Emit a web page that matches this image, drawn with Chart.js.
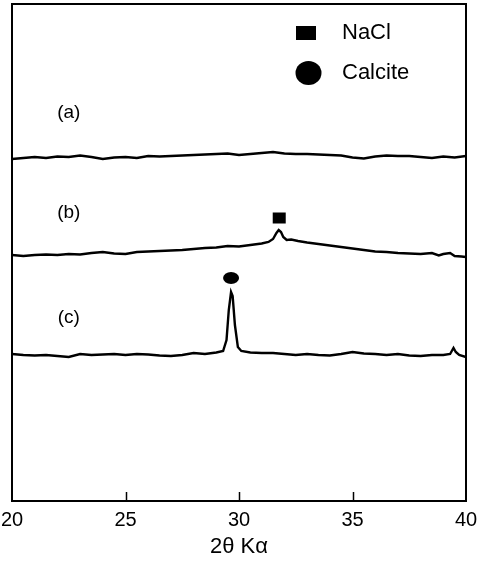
<!DOCTYPE html>
<html>
<head>
<meta charset="utf-8">
<script src="https://cdn.jsdelivr.net/npm/chart.js@4.4.1/dist/chart.umd.min.js"></script>
<style>
  html, body { margin: 0; padding: 0; background: #fff; }
  #wrap { width: 478px; height: 562px; }
</style>
</head>
<body>
<div id="wrap"><canvas id="c" width="478" height="562"></canvas></div>
<script>
// ---- data (2θ in degrees, intensity in arbitrary units with stacking offset) ----
const xA = [20,20.5,21,21.5,22,22.5,23,23.5,24,24.5,25,25.5,26,26.5,27,27.5,28,28.5,29,29.5,30,30.5,31,31.5,32,32.5,33,33.5,34,34.5,35,35.5,36,36.5,37,37.5,38,38.5,39,39.5,40];
const yA = [342,343,344,343,344.5,344,345.5,344,342,343.5,344,343,345,344.5,345,345.5,346,346.5,347,347.5,346,347,348,349,347.5,347,347,346.5,346,345.5,343.5,342.5,344.5,345.5,345,345,344,343,344.5,343.5,345];

const xB = [20,20.5,21,21.5,22,22.5,23,23.5,24,24.5,25,25.5,26,26.5,27,27.5,28,28.5,29,29.5,30,30.5,31,31.3,31.5,31.65,31.75,31.85,31.95,32.1,32.3,32.6,33,33.5,34,34.5,35,35.5,36,36.5,37,37.5,38,38.5,38.8,39,39.3,39.5,39.8,40];
const yB = [246,245,246,246.5,246,247,246.5,248,249,247.5,247,249,249.5,250,250.5,251,252,253,253.5,255,254.5,256,257.5,259,262,268,271,269,264,261,261.5,260,258.5,257,255.5,254,252.5,251,249.5,249,248,247.5,247,248,245.5,247,248,245,244.5,244];

const xC = [20,20.5,21,21.5,22,22.5,23,23.5,24,24.5,25,25.5,26,26.5,27,27.5,28,28.5,29,29.3,29.45,29.55,29.65,29.72,29.82,29.95,30.1,30.5,31,31.5,32,32.5,33,33.5,34,34.5,35,35.5,36,36.5,37,37.5,38,38.5,39,39.3,39.45,39.55,39.7,40];
const yC = [147,146,145.5,146,145,144,147,146,146.5,147,146,147,146.5,145.5,145,146,148,147,148.5,150,161,191,209,205,176,154,150,148.5,148,148,147,146,147,146,145.5,147,149,147.5,147,146,147,145.5,145,146,146,147,153,149,146,144];

const traceLabels = ['(a)', '(b)', '(c)'];
const traceLabelX = [22.5, 22.5, 22.5];
const traceLabelY = [388, 288, 183];

const peakNames = ['NaCl', 'Calcite'];
const peakX = [31.75, 29.65];
const peakY = [283, 223];

const xTicks = [20, 25, 30, 35, 40];

const toXY = (xs, ys) => xs.map((x, i) => ({x: x, y: ys[i]}));

const framePlugin = {
  id: 'frame',
  afterDatasetsDraw(chart) {
    const ctx = chart.ctx, a = chart.chartArea;
    const xs = chart.scales.x, ys = chart.scales.y;
    ctx.save();
    // frame
    ctx.strokeStyle = '#000';
    ctx.lineWidth = 2;
    ctx.strokeRect(a.left, a.top, a.right - a.left, a.bottom - a.top);
    // inward ticks
    ctx.lineWidth = 1.5;
    xTicks.forEach(t => {
      if (t === 20 || t === 40) return;
      const px = Math.round(xs.getPixelForValue(t)) + 0.5;
      ctx.beginPath();
      ctx.moveTo(px, a.bottom);
      ctx.lineTo(px, a.bottom - 9);
      ctx.stroke();
    });
    // trace labels
    ctx.fillStyle = '#000';
    ctx.font = '19px "Liberation Sans", Arial, sans-serif';
    ctx.textAlign = 'center';
    ctx.textBaseline = 'middle';
    traceLabels.forEach((t, i) => {
      ctx.fillText(t, xs.getPixelForValue(traceLabelX[i]), ys.getPixelForValue(traceLabelY[i]));
    });
    // peak markers
    const sx = xs.getPixelForValue(peakX[0]), sy = ys.getPixelForValue(peakY[0]);
    ctx.fillRect(sx - 6, sy - 5.5, 13, 11);
    const cx = xs.getPixelForValue(peakX[1]), cy = ys.getPixelForValue(peakY[1]);
    ctx.beginPath();
    ctx.ellipse(cx, cy, 8, 6, 0, 0, Math.PI * 2);
    ctx.fill();
    // legend
    const lx = a.left + 284;
    ctx.fillRect(lx, a.top + 22, 20, 14);
    ctx.beginPath();
    ctx.ellipse(lx + 12.5, a.top + 69, 13, 12, 0, 0, Math.PI * 2);
    ctx.fill();
    ctx.textAlign = 'left';
    ctx.font = '22px "Liberation Sans", Arial, sans-serif';
    ctx.fillText(peakNames[0], a.left + 330, a.top + 29);
    ctx.fillText(peakNames[1], a.left + 330, a.top + 69);
    ctx.restore();
  }
};

const lineStyle = {borderColor: '#000', borderWidth: 2.4, pointRadius: 0, tension: 0, fill: false};

new Chart(document.getElementById('c'), {
  type: 'line',
  data: {
    datasets: [
      Object.assign({label: 'a', data: toXY(xA, yA)}, lineStyle),
      Object.assign({label: 'b', data: toXY(xB, yB)}, lineStyle),
      Object.assign({label: 'c', data: toXY(xC, yC)}, lineStyle)
    ]
  },
  options: {
    responsive: false,
    animation: false,
    layout: {padding: {left: 0, right: 0, top: 4, bottom: 0}},
    plugins: {legend: {display: false}, tooltip: {enabled: false}},
    scales: {
      x: {
        type: 'linear', min: 20, max: 40,
        afterBuildTicks(s) { s.ticks = xTicks.map(v => ({value: v})); },
        afterFit(s) { s.height = 61; s.paddingLeft = 12; s.paddingRight = 12; },
        grid: {display: false, drawTicks: false},
        border: {display: false},
        ticks: {color: '#000', padding: 7, maxRotation: 0, autoSkip: false,
                font: {family: '"Liberation Sans", Arial, sans-serif', size: 20}},
        title: {display: true, text: '2θ Kα', color: '#000',
                font: {family: '"Liberation Sans", Arial, sans-serif', size: 22},
                padding: {top: 0, bottom: 2}}
      },
      y: {type: 'linear', min: 0, max: 497, display: false}
    }
  },
  plugins: [framePlugin]
});
</script>
</body>
</html>
